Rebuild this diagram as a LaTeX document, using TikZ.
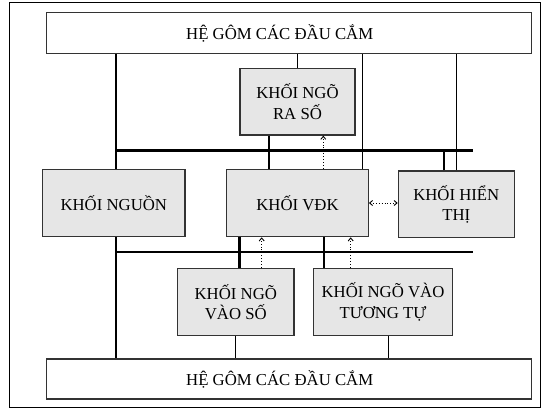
\documentclass[tikz,border=0pt]{standalone}
\usepackage{fontspec}
\setmainfont{Liberation Serif}
\usetikzlibrary{arrows.meta}
\definecolor{grisbloque}{HTML}{E6E6E6}
\tikzset{
    bloque/.style={draw=black!80, line width=1.2pt, fill=grisbloque, inner sep=0pt, align=center,
        font=\fontsize{16.75}{20.1}\selectfont},
    marco/.style={draw=black!80, line width=1.2pt, fill=white, inner sep=0pt,
        font=\fontsize{16.75}{20.1}\selectfont},
    bus/.style={line width=2.7pt},
    fino/.style={line width=1pt},
    senal/.style={dotted, line width=0.9pt, -{Straight Barb[length=3pt,width=5pt]}},
    senaldoble/.style={dotted, line width=0.9pt, {Straight Barb[length=3pt,width=5pt]}-{Straight Barb[length=3pt,width=5pt]}}
}
\begin{document}
\begin{tikzpicture}[x=1pt, y=-1pt]
        \useasboundingbox (0,0) rectangle (541,409);
        % Marco exterior
        \draw[line width=1pt] (9,3) rectangle (540,407.5);

        % Bloques
        \node[marco, minimum width=485pt, minimum height=40.6pt] (top) at (289.2,33) {HỆ GÔM CÁC ĐẦU CẮM\kern19pt};
        \node[marco, minimum width=485pt, minimum height=40pt] (bot) at (289.2,379) {HỆ GÔM CÁC ĐẦU CẮM\kern19pt};
        \node[bloque, minimum width=115pt, minimum height=66.7pt] (rase) at (297.5,101.7) {KHỐI NGÕ\\RA SỐ};
        \node[bloque, minimum width=142.3pt, minimum height=67.4pt] (nguon) at (113.8,203) {KHỐI NGUỒN};
        \node[bloque, minimum width=141.6pt, minimum height=67.4pt] (vdk) at (297.5,203) {KHỐI VĐK};
        \node[bloque, minimum width=116pt, minimum height=66.3pt] (hienthi) at (456.3,204.2) {KHỐI HIỂN\\THỊ};
        \node[bloque, minimum width=116.3pt, minimum height=67.4pt] (vaoso) at (235.8,302) {KHỐI NGÕ\\VÀO SỐ};
        \node[bloque, minimum width=139.4pt, minimum height=67.4pt] (tuongtu) at (383,302) {KHỐI NGÕ VÀO\\TƯƠNG TỰ};

        % Buses
        \coordinate (b1i) at (115,150.7);
        \coordinate (b1d) at (472.7,150.7);
        \coordinate (b2i) at (115,252);
        \coordinate (b2d) at (472.7,252);
        \draw[bus] (b1i) -- (b1d);
        \draw[bus] (b2i) -- (b2d);
        \draw[bus] ([xshift=1pt]top.south -| b1i) -- ([xshift=1pt]nguon.north -| b1i);
        \draw[bus] ([xshift=1pt]nguon.south -| b1i) -- ([xshift=1pt]bot.north -| b1i);
        \draw[bus] ([xshift=-28.5pt]rase.south) -- ([xshift=-28.5pt]vdk.north);
        \draw[bus] ([xshift=-12.3pt]hienthi.north) -- ([xshift=-12.3pt]hienthi.north |- b1d);
        \draw[bus] ([xshift=3.5pt]vaoso.north) -- ([xshift=3.5pt]vaoso.north |- vdk.south);
        \draw[bus] ([xshift=-59pt]tuongtu.north) -- ([xshift=-59pt]tuongtu.north |- vdk.south);

        % Lineas finas a los sensores
        \draw[fino] (rase.north) -- (rase.north |- top.south);
        \draw[fino] ([xshift=64.8pt]vdk.north) -- ([xshift=64.8pt]vdk.north |- top.south);
        \draw[fino] (hienthi.north) -- (hienthi.north |- top.south);
        \draw[fino] (vaoso.south) -- (vaoso.south |- bot.north);
        \draw[fino] ([xshift=5.3pt]tuongtu.south) -- ([xshift=5.3pt]tuongtu.south |- bot.north);

        % Senales
        \draw[senal] ([xshift=25.8pt]vdk.north) -- ([xshift=25.8pt]rase.south);
        \draw[senal] ([xshift=25.9pt]vaoso.north) -- ([xshift=25.9pt]vaoso.north |- vdk.south);
        \draw[senal] ([xshift=-32.3pt]tuongtu.north) -- ([xshift=-32.3pt]tuongtu.north |- vdk.south);
        \draw[senaldoble] (vdk.east) -- (vdk.east -| hienthi.west);
\end{tikzpicture}
\end{document}
